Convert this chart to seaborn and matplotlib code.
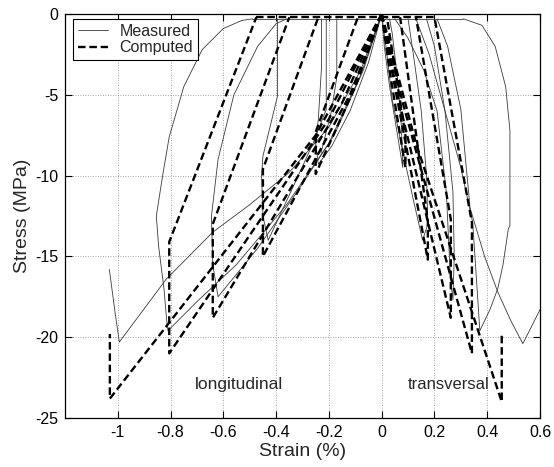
import matplotlib
matplotlib.use("Agg")
import matplotlib.pyplot as plt
import numpy as np
import pandas as pd
import seaborn as sns
from matplotlib.lines import Line2D

# ---------------- data ----------------
# Computed, longitudinal cycles (loading from origin, relaxation, unloading)
comp_l1_x = [0, -0.10, -0.25, -0.25, -0.09]
comp_l1_y = [0, -4.5, -9.9, -7.3, -0.2]
comp_l2_x = [0, -0.12, -0.45, -0.45, -0.24]
comp_l2_y = [0, -5.0, -15.0, -9.6, -0.2]
comp_l3_x = [0, -0.15, -0.64, -0.64, -0.35]
comp_l3_y = [0, -5.5, -18.8, -13.0, -0.2]
comp_l4_x = [0, -0.20, -0.805, -0.805, -0.475]
comp_l4_y = [0, -6.5, -21.0, -14.1, -0.2]
comp_l5_x = [0, -0.25, -1.03, -1.03]
comp_l5_y = [0, -7.5, -23.8, -19.8]
# Computed, transversal cycles
comp_t1_x = [0, 0.03, 0.09, 0.09, 0.02]
comp_t1_y = [0, -3.5, -9.5, -7.5, -0.2]
comp_t2_x = [0, 0.05, 0.175, 0.175, 0.07]
comp_t2_y = [0, -4.5, -15.2, -12.8, -0.2]
comp_t3_x = [0, 0.06, 0.262, 0.262, 0.13]
comp_t3_y = [0, -5.0, -18.8, -12.7, -0.2]
comp_t4_x = [0, 0.08, 0.342, 0.342, 0.20]
comp_t4_y = [0, -5.5, -21.0, -12.9, -0.2]
comp_t5_x = [0, 0.13, 0.455, 0.455]
comp_t5_y = [0, -8.0, -24.0, -19.8]
comp_top_x = [-0.475, 0.20]
comp_top_y = [-0.2, -0.2]

# Measured, longitudinal
meas_l1_x = [0, -0.05, -0.12, -0.19, -0.24, -0.25, -0.24, -0.228, -0.228]
meas_l1_y = [0, -3.0, -6.0, -8.2, -9.3, -8.0, -6.5, -3.3, -0.3]
meas_l2_x = [-0.21, -0.21, -0.26, -0.33, -0.43, -0.45, -0.455, -0.45, -0.395, -0.395]
meas_l2_y = [-0.3, -5.9, -8.0, -10.5, -14.0, -12.5, -10.0, -8.8, -5.1, -0.3]
meas_l3_x = [0, -0.07, -0.18, -0.32, -0.47, -0.62, -0.64, -0.645, -0.62, -0.56, -0.47, -0.40, -0.36]
meas_l3_y = [0, -3.5, -7.5, -11.0, -14.5, -17.5, -15.5, -12.5, -9.0, -5.0, -2.0, -0.6, -0.3]
meas_l4_x = [0, -0.08, -0.20, -0.36, -0.55, -0.70, -0.81, -0.815, -0.825, -0.845,
             -0.854, -0.83, -0.805, -0.75, -0.68, -0.60, -0.53, -0.49]
meas_l4_y = [0, -3.8, -8.0, -11.8, -15.5, -17.8, -19.6, -18.9, -17.0, -14.4,
             -12.5, -10.0, -7.6, -4.5, -2.2, -0.9, -0.4, -0.3]
meas_l5_x = [0, -0.08, -0.20, -0.35, -0.50, -0.64, -0.816, -0.994, -1.01, -1.032]
meas_l5_y = [0, -3.5, -7.0, -9.8, -11.8, -13.5, -16.4, -20.3, -18.5, -15.8]
meas_l6_x = [-0.17, -0.17, -0.19, -0.23]
meas_l6_y = [-0.3, -3.9, -6.0, -8.6]
# Measured, transversal
meas_t1_x = [0, 0.01, 0.03, 0.05, 0.07, 0.08, 0.075, 0.06, 0.04, 0.03]
meas_t1_y = [0, -2.0, -4.5, -6.5, -8.5, -9.5, -7.0, -4.0, -1.2, -0.3]
meas_t2_x = [0, 0.02, 0.04, 0.08, 0.12, 0.155, 0.175, 0.17, 0.15, 0.12, 0.10]
meas_t2_y = [0, -2.5, -5.3, -8.5, -11.5, -14.0, -13.0, -10.0, -6.0, -2.5, -0.3]
meas_t3_x = [0.05, 0.10, 0.16, 0.21, 0.245, 0.26, 0.27, 0.275, 0.27, 0.24, 0.20, 0.17]
meas_t3_y = [-0.3, -1.5, -3.5, -6.0, -11.0, -16.2, -17.7, -15.0, -11.0, -6.0, -2.0, -0.3]
meas_t4_x = [0.13, 0.18, 0.24, 0.30, 0.345, 0.372, 0.41, 0.44, 0.46, 0.48, 0.486,
             0.486, 0.47, 0.43, 0.38, 0.31]
meas_t4_y = [-0.3, -2.5, -6.0, -9.5, -12.9, -19.6, -18.3, -17.0, -15.5, -13.3, -13.1,
             -7.2, -4.5, -2.0, -0.7, -0.3]
meas_t5_x = [0.21, 0.25, 0.30, 0.335, 0.39, 0.44, 0.49, 0.535, 0.60, 0.63]
meas_t5_y = [-0.3, -2.0, -5.9, -12.0, -15.0, -17.2, -19.0, -20.4, -18.3, -17.3]
meas_top_x = [-0.49, 0.31]
meas_top_y = [-0.3, -0.3]

x_ticks = [-1, -0.8, -0.6, -0.4, -0.2, 0, 0.2, 0.4, 0.6]
x_tick_labels = ["-1", "-0.8", "-0.6", "-0.4", "-0.2", "0", "0.2", "0.4", "0.6"]
y_ticks = [0, -5, -10, -15, -20, -25]
y_tick_labels = ["0", "-5", "-10", "-15", "-20", "-25"]
series_names = ["Measured", "Computed"]

segments = [
    ("Computed", comp_l1_x, comp_l1_y), ("Computed", comp_l2_x, comp_l2_y),
    ("Computed", comp_l3_x, comp_l3_y), ("Computed", comp_l4_x, comp_l4_y),
    ("Computed", comp_l5_x, comp_l5_y), ("Computed", comp_t1_x, comp_t1_y),
    ("Computed", comp_t2_x, comp_t2_y), ("Computed", comp_t3_x, comp_t3_y),
    ("Computed", comp_t4_x, comp_t4_y), ("Computed", comp_t5_x, comp_t5_y),
    ("Computed", comp_top_x, comp_top_y),
    ("Measured", meas_l1_x, meas_l1_y), ("Measured", meas_l2_x, meas_l2_y),
    ("Measured", meas_l3_x, meas_l3_y), ("Measured", meas_l4_x, meas_l4_y),
    ("Measured", meas_l5_x, meas_l5_y), ("Measured", meas_l6_x, meas_l6_y),
    ("Measured", meas_t1_x, meas_t1_y), ("Measured", meas_t2_x, meas_t2_y),
    ("Measured", meas_t3_x, meas_t3_y), ("Measured", meas_t4_x, meas_t4_y),
    ("Measured", meas_t5_x, meas_t5_y), ("Measured", meas_top_x, meas_top_y),
]

rows = []
for k, (name, xs, ys) in enumerate(segments):
    for i, (xv, yv) in enumerate(zip(xs, ys)):
        rows.append({"seg": k, "order": i, "x": xv, "y": yv, "series": name})
df = pd.DataFrame(rows)

# ---------------- style ----------------
sns.set_style("ticks")
plt.rcParams["font.family"] = ["Liberation Sans", "DejaVu Sans"]
plt.rcParams["axes.unicode_minus"] = False

fig = plt.figure(figsize=(5.54, 4.67), dpi=100)
ax = fig.add_axes([65 / 554, (467 - 418) / 467, 475 / 554, 404 / 467])

meas_df = df[df["series"] == "Measured"]
comp_df = df[df["series"] == "Computed"]
sns.lineplot(data=meas_df, x="x", y="y", units="seg", estimator=None, sort=False,
             color="#3a3a3a", linewidth=0.6, ax=ax, legend=False)
sns.lineplot(data=comp_df, x="x", y="y", units="seg", estimator=None, sort=False,
             color="black", linewidth=1.7, linestyle=(0, (3.2, 1.6)), ax=ax, legend=False)

ax.set_xlim(-1.2, 0.6)
ax.set_ylim(-25, 0)
ax.set_xticks(x_ticks)
ax.set_xticklabels(x_tick_labels)
ax.set_yticks(y_ticks)
ax.set_yticklabels(y_tick_labels)
ax.tick_params(direction="in", length=5, width=0.8, top=True, right=True,
               labelsize=11.5, colors="black", pad=5)
ax.grid(True, linestyle=(0, (1, 2)), color="#888888", linewidth=0.6)
for sp in ax.spines.values():
    sp.set_visible(True)
    sp.set_color("black")
    sp.set_linewidth(0.9)
ax.set_xlabel("Strain (%)", fontsize=14, labelpad=2)
ax.set_ylabel("Stress (MPa)", fontsize=14, labelpad=3)

ax.text(-0.54, -22.9, "longitudinal", fontsize=12.5, ha="center", va="center")
ax.text(0.255, -22.9, "transversal", fontsize=12, ha="center", va="center")

handles = [Line2D([], [], color="#3a3a3a", linewidth=0.6),
           Line2D([], [], color="black", linewidth=1.7, linestyle=(0, (3.2, 1.6)))]
leg = ax.legend(handles, series_names, loc="upper left", bbox_to_anchor=(0.017, 0.988),
                borderaxespad=0, fancybox=False, framealpha=1, edgecolor="black",
                fontsize=11.5, handlelength=1.9, handletextpad=0.7, borderpad=0.3,
                labelspacing=0.1)
leg.get_frame().set_linewidth(0.8)

fig.savefig("out.png", dpi=100)
